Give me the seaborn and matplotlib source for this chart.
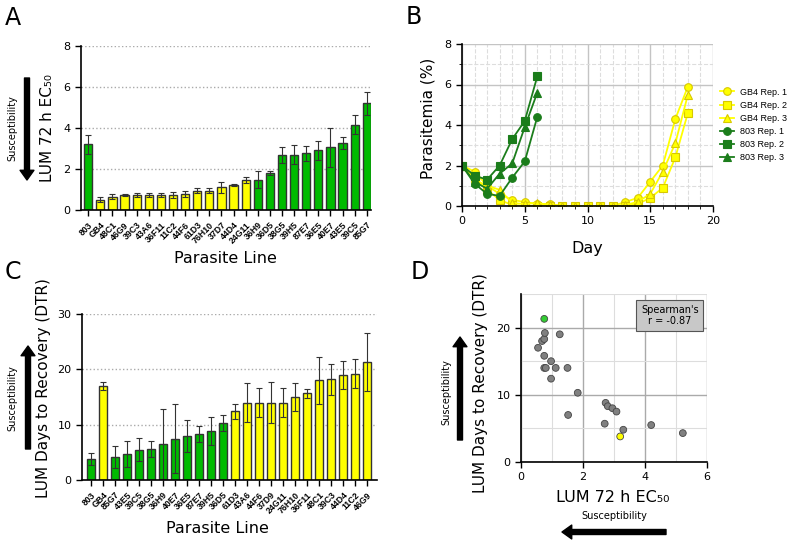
import matplotlib
matplotlib.use("Agg")
import matplotlib.pyplot as plt
from matplotlib.patches import FancyArrowPatch
from matplotlib.ticker import MultipleLocator
import seaborn as sns

# ---- data ----
green_lines = ["803", "36H9", "36D5", "38G5", "39H5", "87E7", "36E5",
               "40E7", "43E5", "39C5", "85G7"]

# A: LUM 72 h EC50
ec50_lines = ["803", "GB4", "48C1", "46G9", "39C3", "43A6", "36F11", "11C2",
              "44F6", "61D3", "76H10", "37D7", "44D4", "24G11", "36H9", "36D5",
              "38G5", "39H5", "87E7", "36E5", "40E7", "43E5", "39C5", "85G7"]
ec50_vals = [3.2, 0.5, 0.65, 0.72, 0.72, 0.72, 0.72, 0.74, 0.78, 0.93, 0.93,
             1.1, 1.2, 1.45, 1.48, 1.8, 2.68, 2.7, 2.77, 2.92, 3.05, 3.27,
             4.17, 5.2]
ec50_err = [0.45, 0.12, 0.12, 0.06, 0.1, 0.1, 0.1, 0.14, 0.15, 0.12, 0.12,
            0.25, 0.05, 0.15, 0.4, 0.1, 0.4, 0.45, 0.37, 0.47, 0.95, 0.3,
            0.48, 0.57]

# C: days to recovery
dtr_lines = ["803", "GB4", "85G7", "43E5", "39C5", "38G5", "36H9", "40E7",
             "36E5", "87E7", "39H5", "36D5", "61D3", "43A6", "44F6", "37D9",
             "24G11", "76H10", "36F11", "48C1", "39C3", "44D4", "11C2", "46G9"]
dtr_vals = [3.8, 17.0, 4.2, 4.7, 5.5, 5.6, 6.5, 7.5, 8.0, 8.3, 8.8, 10.3,
            12.4, 14.0, 14.0, 14.0, 14.0, 15.0, 15.7, 18.0, 18.2, 19.0,
            19.2, 21.3]
dtr_err = [1.0, 0.8, 2.0, 2.4, 2.1, 1.5, 6.3, 6.3, 2.9, 1.5, 2.5, 1.5, 1.4,
           3.5, 2.7, 3.7, 2.7, 2.5, 0.8, 4.3, 2.8, 2.5, 2.6, 5.2]

# B: parasitemia time course
days_gb4 = list(range(19))
gb4_rep1 = [2.0, 1.7, 1.0, 0.6, 0.3, 0.2, 0.1, 0.1, 0, 0, 0, 0, 0, 0.2, 0.4,
            1.2, 2.0, 4.3, 5.9]
gb4_rep2 = [2.0, 1.4, 0.8, 0.3, 0.05, 0, 0, 0, 0, 0, 0, 0, 0, 0, 0.1, 0.4,
            0.9, 2.4, 4.6]
gb4_rep3 = [2.0, 1.3, 1.0, 0.8, 0.15, 0.1, 0.15, 0.05, 0, 0, 0, 0, 0, 0.05,
            0.2, 0.6, 1.7, 3.1, 5.5]
days_803 = list(range(7))
s803_rep1 = [2.0, 1.1, 0.6, 0.5, 1.4, 2.2, 4.4]
s803_rep2 = [2.0, 1.5, 1.3, 2.0, 3.3, 4.2, 6.4]
s803_rep3 = [2.0, 1.2, 0.85, 1.6, 2.1, 3.9, 5.6]

# D: EC50 vs DTR per line
d_ec50 = [3.2, 0.55, 0.68, 0.75, 0.75, 0.75, 0.75, 0.77, 0.8, 0.97, 0.97,
          1.12, 1.25, 1.5, 1.52, 1.83, 2.7, 2.73, 2.8, 2.95, 3.08, 3.3,
          4.2, 5.22]
d_dtr = [3.8, 17.0, 18.0, 21.3, 18.3, 14.0, 15.8, 19.2, 14.0, 12.4, 15.0,
         14.0, 19.0, 14.0, 7.0, 10.3, 5.7, 8.8, 8.3, 8.0, 7.5, 4.8, 5.5, 4.3]
d_highlight = {"46G9": 3, "803": 0}

GREEN = "#00bb00"
YELLOW = "#ffff00"
DKGREEN = "#1b7d1b"

W, H = 789, 540
plt.rcParams["font.family"] = ["DejaVu Sans"]
plt.rcParams["axes.linewidth"] = 1.2
fig = plt.figure(figsize=(W / 100, H / 100), dpi=100)


def box(l, t, r, b):
    return [l / W, 1 - b / H, (r - l) / W, (b - t) / H]


def arrow(x0, y0, x1, y1):
    fig.add_artist(FancyArrowPatch(
        (x0 / W, 1 - y0 / H), (x1 / W, 1 - y1 / H), transform=fig.transFigure,
        arrowstyle="simple,head_width=1.0,head_length=0.7,tail_width=0.36",
        mutation_scale=10, color="black", shrinkA=0, shrinkB=0))


def ftext(x, y, s, **kw):
    fig.text(x / W, 1 - y / H, s, ha="center", va="center", **kw)


def style_axes(ax):
    sns.despine(ax=ax)
    ax.tick_params(direction="out", length=4, width=1, labelsize=8)


def bar_panel(ax, names, vals, errs, ylabel, ymax, ystep):
    colors = [GREEN if n in green_lines else YELLOW for n in names]
    sns.barplot(x=names, y=vals, hue=names, palette=colors, legend=False,
                width=0.68, edgecolor="#333333", linewidth=1, errorbar=None,
                saturation=1, ax=ax)
    ax.errorbar(range(len(names)), vals, yerr=errs, fmt="none",
                ecolor="#333333", elinewidth=0.8, capsize=2, capthick=0.8)
    ax.set_ylim(0, ymax)
    ax.yaxis.set_major_locator(MultipleLocator(ystep))
    ax.yaxis.grid(True, linestyle=":", color="#aaaaaa", linewidth=1)
    ax.set_axisbelow(True)
    style_axes(ax)
    for lab in ax.get_xticklabels():
        lab.set_rotation(45)
        lab.set_ha("right")
        lab.set_rotation_mode("anchor")
        lab.set_fontsize(6.3)
        lab.set_fontweight("bold")
        lab.set_family("Liberation Sans")
    ax.set_xlabel("Parasite Line", fontsize=11.5)
    ax.set_ylabel(ylabel, fontsize=11)
    ax.xaxis.label.set_va("center")
    ax.yaxis.label.set_va("center")


# ---- A ----
axA = fig.add_axes(box(81, 46, 371, 210))
bar_panel(axA, ec50_lines, ec50_vals, ec50_err, "LUM 72 h EC₅₀", 8, 2)
axA.set_xlim(-0.6, 23.35)
axA.get_ygridlines()[-1].set_visible(False)
axA.xaxis.set_label_coords(0.497, -0.293)
axA.yaxis.set_label_coords(-0.117, 0.5)
arrow(27, 78, 27, 180)
ftext(12, 128, "Susceptibility", rotation=90, fontsize=7)

# ---- C ----
axC = fig.add_axes(box(82, 314, 377, 480))
bar_panel(axC, dtr_lines, dtr_vals, dtr_err,
          "LUM Days to Recovery (DTR)", 30, 10)
axC.set_xlim(-0.75, 23.8)
axC.get_ygridlines()[-1].set_visible(False)
axC.xaxis.set_label_coords(0.46, -0.29)
axC.yaxis.set_label_coords(-0.132, 0.554)
arrow(28, 449, 28, 346)
ftext(12, 398, "Susceptibility", rotation=90, fontsize=7)

# ---- B ----
axB = fig.add_axes(box(462, 44, 713, 206))
series = [
    (days_gb4, gb4_rep1, "o", YELLOW, "#d8c800", "GB4 Rep. 1"),
    (days_gb4, gb4_rep2, "s", YELLOW, "#d8c800", "GB4 Rep. 2"),
    (days_gb4, gb4_rep3, "^", YELLOW, "#d8c800", "GB4 Rep. 3"),
    (days_803, s803_rep1, "o", DKGREEN, DKGREEN, "803 Rep. 1"),
    (days_803, s803_rep2, "s", DKGREEN, DKGREEN, "803 Rep. 2"),
    (days_803, s803_rep3, "^", DKGREEN, DKGREEN, "803 Rep. 3"),
]
for xs, ys, mk, col, edge, lab in series:
    sns.lineplot(x=xs, y=ys, marker=mk, color=col, markerfacecolor=col,
                 markeredgecolor=edge, markersize=5.5, markeredgewidth=0.8,
                 linewidth=1.3, label=lab, ax=axB)
axB.set_xlim(0, 20)
axB.set_ylim(0, 8)
axB.xaxis.set_major_locator(MultipleLocator(5))
axB.xaxis.set_minor_locator(MultipleLocator(1))
axB.yaxis.set_major_locator(MultipleLocator(2))
axB.yaxis.set_minor_locator(MultipleLocator(1))
axB.grid(True, which="major", color="#c4c4c4", linewidth=1)
axB.grid(True, which="minor", color="#dddddd", linewidth=0.8, linestyle="--")
axB.set_axisbelow(True)
style_axes(axB)
axB.tick_params(which="minor", direction="out", length=2)
axB.set_xlabel("Day", fontsize=11.5)
axB.set_ylabel("Parasitemia (%)", fontsize=11)
axB.xaxis.label.set_va("center")
axB.yaxis.label.set_va("center")
axB.xaxis.set_label_coords(0.5, -0.26)
axB.yaxis.set_label_coords(-0.135, 0.543)
axB.legend(loc="upper left", bbox_to_anchor=(716 / W, 1 - 84 / H),
           bbox_transform=fig.transFigure, frameon=False,
           prop={"family": "Liberation Sans", "size": 6.5},
           handlelength=1.6, handletextpad=0.7, labelspacing=0.45,
           borderaxespad=0)

# ---- D ----
axD = fig.add_axes(box(521, 294, 707, 462))
pt_colors = ["#808080"] * len(d_ec50)
pt_colors[d_highlight["46G9"]] = "#33cc33"
pt_colors[d_highlight["803"]] = YELLOW
sns.scatterplot(x=d_ec50, y=d_dtr, color=pt_colors, s=24,
                edgecolor="#444444", linewidth=0.6, ax=axD, zorder=3)
axD.set_xlim(0, 6)
axD.set_ylim(0, 25)
axD.xaxis.set_major_locator(MultipleLocator(2))
axD.xaxis.set_minor_locator(MultipleLocator(1))
axD.yaxis.set_major_locator(MultipleLocator(10))
axD.yaxis.set_minor_locator(MultipleLocator(5))
axD.grid(True, which="major", color="#aaaaaa", linewidth=1)
axD.grid(True, which="minor", color="#dddddd", linewidth=0.8)
axD.set_axisbelow(True)
style_axes(axD)
axD.tick_params(which="minor", length=0)
axD.set_xlabel("LUM 72 h EC₅₀", fontsize=11.5)
axD.set_ylabel("LUM Days to Recovery (DTR)", fontsize=11)
axD.xaxis.label.set_va("center")
axD.yaxis.label.set_va("center")
axD.xaxis.set_label_coords(0.495, -0.214)
axD.yaxis.set_label_coords(-0.22, 0.47)
axD.text(4.8, 21.8, "Spearman's\nr = -0.87", ha="center", va="center",
         fontsize=7, zorder=4,
         bbox=dict(boxstyle="square,pad=0.5", facecolor="#c8c8c8",
                   edgecolor="#555555", linewidth=0.8))
arrow(460, 440, 460, 337)
ftext(446, 392, "Susceptibility", rotation=90, fontsize=7)
arrow(666, 532, 562, 532)
ftext(614, 516, "Susceptibility", fontsize=7)

# panel letters
ftext(13, 18, "A", fontsize=17)
ftext(414, 17, "B", fontsize=17)
ftext(13, 272, "C", fontsize=17)
ftext(420, 272, "D", fontsize=17)

fig.savefig("out.png", dpi=100)
